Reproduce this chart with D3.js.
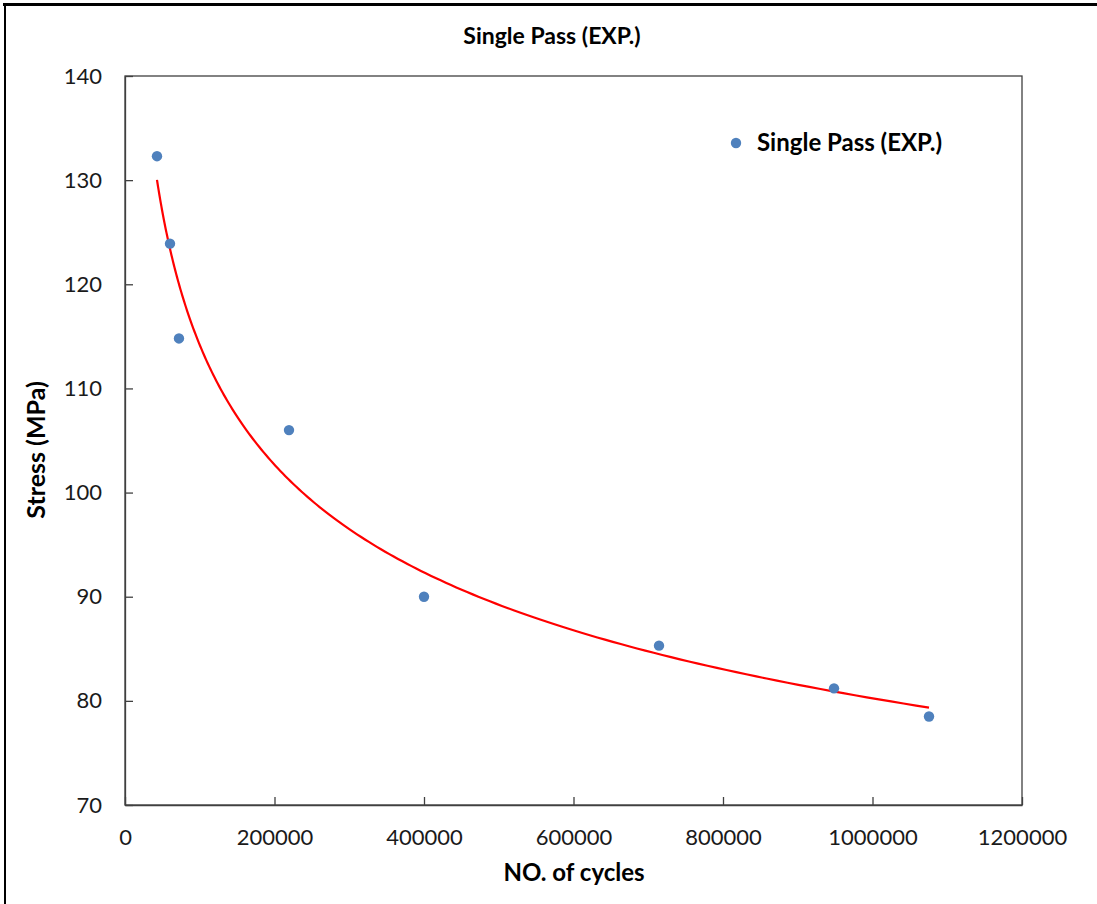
<!DOCTYPE html>
<html><head><meta charset="utf-8">
<script src="https://cdn.jsdelivr.net/npm/d3@7"></script>
<style>body{margin:0;background:#fff}svg{display:block}text{font-family:Lato,"Open Sans",sans-serif}</style>
</head><body>
<div id="chart"></div>
<script>
const cycles = [42800, 60200, 72200, 219400, 400000, 714400, 948500, 1075600];
const stress = [132.3, 123.9, 114.8, 106.0, 90.0, 85.3, 81.2, 78.5];
const xTicks = [0, 200000, 400000, 600000, 800000, 1000000, 1200000];
const yTicks = [70, 80, 90, 100, 110, 120, 130, 140];
const titleText = "Single Pass (EXP.)";
const seriesName = "Single Pass (EXP.)";
const xTitle = "NO. of cycles";
const yTitle = "Stress (MPa)";

const W = 1097, H = 904;
const m = {left:125, top:76, right:1022, bottom:805};
const svg = d3.select("#chart").append("svg").attr("width", W).attr("height", H);
svg.append("rect").attr("width", W).attr("height", H).attr("fill", "#fff");
// outer frame
svg.append("line").attr("x1", 3).attr("x2", W).attr("y1", 4.5).attr("y2", 4.5).attr("stroke", "#000").attr("stroke-width", 3);
svg.append("line").attr("x1", 5).attr("x2", 5).attr("y1", 3).attr("y2", H).attr("stroke", "#000").attr("stroke-width", 2);

const x = d3.scaleLinear().domain([0, 1200000]).range([m.left, m.right]);
const y = d3.scaleLinear().domain([70, 140]).range([m.bottom, m.top]);

// plot border
svg.append("rect").attr("x", m.left).attr("y", m.top).attr("width", m.right - m.left).attr("height", m.bottom - m.top)
  .attr("fill", "none").attr("stroke", "#404040").attr("stroke-width", 1.3);

const xAxis = svg.append("g").attr("transform", `translate(0,${m.bottom})`)
  .call(d3.axisBottom(x).tickValues(xTicks).tickFormat(d3.format("d")).tickSizeInner(-8).tickSizeOuter(0).tickPadding(24));
const yAxis = svg.append("g").attr("transform", `translate(${m.left},0)`)
  .call(d3.axisLeft(y).tickValues(yTicks).tickSizeInner(-8).tickSizeOuter(0).tickPadding(23));
[xAxis, yAxis].forEach(g => {
  g.select(".domain").attr("stroke", "#404040").attr("stroke-width", 1.3);
  g.selectAll(".tick line").attr("stroke", "#404040").attr("stroke-width", 1.3);
  g.selectAll(".tick text").attr("font-size", 22).attr("fill", "#1a1a1a").style("font-family", "Lato, sans-serif");
});
xAxis.selectAll(".tick text").attr("dy", "0.71em");

// power trendline fit (least squares on logs)
const lx = cycles.map(Math.log), ly = stress.map(Math.log);
const mx = d3.mean(lx), my = d3.mean(ly);
const b = d3.sum(lx.map((v,i) => (v-mx)*(ly[i]-my))) / d3.sum(lx.map(v => (v-mx)*(v-mx)));
const a = Math.exp(my - b*mx);
const xmin = d3.min(cycles), xmax = d3.max(cycles);
const trend = d3.range(0, 201).map(i => {
  const xv = xmin * Math.pow(xmax/xmin, i/200);
  return [xv, a*Math.pow(xv, b)];
});
svg.append("path").datum(trend)
  .attr("d", d3.line().x(d => x(d[0])).y(d => y(d[1])))
  .attr("fill", "none").attr("stroke", "#ff0000").attr("stroke-width", 2.2);

svg.append("g").selectAll("circle").data(cycles).join("circle")
  .attr("cx", d => x(d)).attr("cy", (d,i) => y(stress[i])).attr("r", 5.2).attr("fill", "#4f81bd");

// titles
svg.append("text").attr("x", 552).attr("y", 44).attr("text-anchor", "middle")
  .attr("font-size", 23).attr("font-weight", "bold").text(titleText);
svg.append("text").attr("x", 574).attr("y", 881).attr("text-anchor", "middle")
  .attr("font-size", 24).attr("font-weight", "bold").text(xTitle);
svg.append("text").attr("transform", "translate(45,450) rotate(-90)").attr("text-anchor", "middle")
  .attr("font-size", 25).attr("font-weight", "bold").text(yTitle);

// legend
svg.append("circle").attr("cx", 736).attr("cy", 143).attr("r", 5.2).attr("fill", "#4f81bd");
svg.append("text").attr("x", 757).attr("y", 151).attr("font-size", 24).attr("font-weight", "bold").text(seriesName);
</script>
</body></html>
